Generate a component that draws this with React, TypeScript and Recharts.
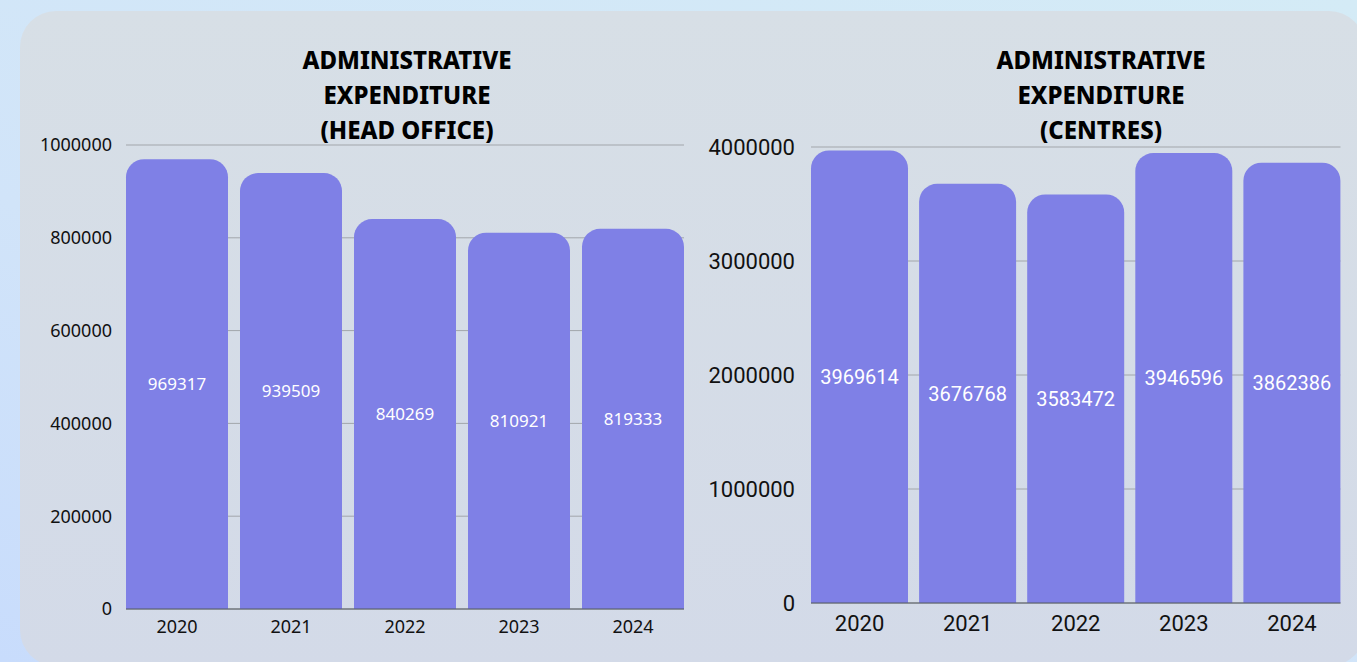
import React from 'react';
import { BarChart, Bar, XAxis, YAxis, CartesianGrid, LabelList } from 'recharts';

const years = ['2020', '2021', '2022', '2023', '2024'];
const headOffice = [969317, 939509, 840269, 810921, 819333];
const centres = [3969614, 3676768, 3583472, 3946596, 3862386];
const headTicks = [0, 200000, 400000, 600000, 800000, 1000000];
const centreTicks = [0, 1000000, 2000000, 3000000, 4000000];

const headData = years.map((year, i) => ({ year, value: headOffice[i] }));
const centreData = years.map((year, i) => ({ year, value: centres[i] }));

const BAR = '#7f80e6';
const GRID = '#a2a6ab';
const AXIS = '#555a60';

const titleStyle: React.CSSProperties = {
  position: 'absolute',
  top: 42,
  width: 400,
  textAlign: 'center',
  fontFamily: '"Noto Sans", sans-serif',
  fontWeight: 800,
  fontSize: 24,
  lineHeight: '35px',
  color: '#000',
};

export default function App() {
  return (
    <div
      style={{
        position: 'absolute',
        left: 0,
        top: 0,
        width: 1357,
        height: 662,
        overflow: 'hidden',
        background: 'linear-gradient(200deg, #d4ebf6 0%, #d1e4f9 60%, #c8dcfc 100%)',
      }}
    >
      <div
        style={{
          position: 'absolute',
          left: 20,
          top: 11,
          width: 1345,
          height: 655,
          borderRadius: 36,
          background: 'linear-gradient(180deg, #d7dfe6 0%, #d3dae8 100%)',
        }}
      />

      <div style={{ position: 'absolute', left: 0, top: 0 }}>
        <BarChart
          width={700}
          height={662}
          data={headData}
          margin={{ top: 145, right: 16, bottom: 0, left: 0 }}
          barCategoryGap={6}
        >
          <CartesianGrid vertical={false} stroke={GRID} strokeWidth={1} />
          <XAxis
            dataKey="year"
            height={53}
            padding={{ left: -6, right: -6 }}
            tickLine={false}
            tickSize={0}
            tickMargin={11}
            axisLine={{ stroke: AXIS }}
            tick={{ fill: '#111', fontSize: 18, fontFamily: '"Noto Sans", sans-serif' }}
          />
          <YAxis
            width={126}
            domain={[0, 1000000]}
            ticks={headTicks}
            axisLine={false}
            tickLine={false}
            tickSize={0}
            tickMargin={14}
            tick={{ fill: '#111', fontSize: 18, fontFamily: '"Noto Sans", sans-serif' }}
          />
          <Bar dataKey="value" fill={BAR} radius={[18, 18, 0, 0]} isAnimationActive={false}>
            <LabelList
              dataKey="value"
              position="center"
              fill="#ffffff"
              fontSize={17}
              fontFamily='"Noto Sans", sans-serif'
            />
          </Bar>
        </BarChart>
      </div>

      <div style={{ position: 'absolute', left: 680, top: 0 }}>
        <BarChart
          width={677}
          height={662}
          data={centreData}
          margin={{ top: 147, right: 16.5, bottom: 0, left: 0 }}
          barCategoryGap={5.5}
        >
          <CartesianGrid vertical={false} stroke={GRID} strokeWidth={1} />
          <XAxis
            dataKey="year"
            height={59}
            padding={{ left: -5.5, right: -5.5 }}
            tickLine={false}
            tickSize={0}
            tickMargin={12}
            axisLine={{ stroke: AXIS }}
            tick={{ fill: '#111', fontSize: 22, fontFamily: 'Roboto, sans-serif' }}
          />
          <YAxis
            width={131}
            domain={[0, 4000000]}
            ticks={centreTicks}
            axisLine={false}
            tickLine={false}
            tickSize={0}
            tickMargin={16}
            tick={{ fill: '#111', fontSize: 22, fontFamily: 'Roboto, sans-serif' }}
          />
          <Bar dataKey="value" fill={BAR} radius={[18, 18, 0, 0]} isAnimationActive={false}>
            <LabelList
              dataKey="value"
              position="center"
              fill="#ffffff"
              fontSize={20}
              fontFamily="Roboto, sans-serif"
            />
          </Bar>
        </BarChart>
      </div>

      <div style={{ ...titleStyle, left: 207 }}>
        ADMINISTRATIVE
        <br />
        EXPENDITURE
        <br />
        (HEAD OFFICE)
      </div>
      <div style={{ ...titleStyle, left: 901 }}>
        ADMINISTRATIVE
        <br />
        EXPENDITURE
        <br />
        (CENTRES)
      </div>
    </div>
  );
}
